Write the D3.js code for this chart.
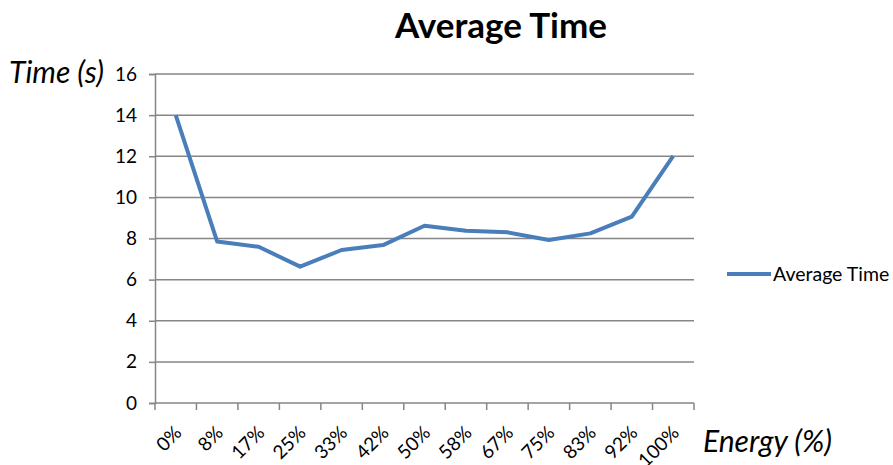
<!DOCTYPE html>
<html>
<head>
<meta charset="utf-8">
<script src="https://cdn.jsdelivr.net/npm/d3@7"></script>
<style>
  html, body { margin: 0; padding: 0; background: #fff; }
  svg { display: block; font-family: Lato, "Open Sans", sans-serif; }
</style>
</head>
<body>
<svg id="chart" width="893" height="465"></svg>
<script>
// Energy levels along the x axis
const categories = ["0%", "8%", "17%", "25%", "33%", "42%", "50%", "58%", "67%", "75%", "83%", "92%", "100%"];
// Average time in seconds for each energy level
const averageTime = [14, 7.85, 7.6, 6.63, 7.44, 7.68, 8.62, 8.38, 8.3, 7.93, 8.25, 9.06, 12.02];
// Y axis tick values
const yTicks = [0, 2, 4, 6, 8, 10, 12, 14, 16];

const svg = d3.select("#chart");
const plot = { left: 155, right: 694, top: 74, bottom: 403 };

const x = d3.scaleBand().domain(categories).range([plot.left, plot.right]);
const y = d3.scaleLinear().domain([0, 16]).range([plot.bottom, plot.top]);

const gridColor = "#868686";

// Horizontal gridlines
svg.append("g").selectAll("line").data(yTicks.filter(d => d > 0)).join("line")
  .attr("x1", plot.left).attr("x2", plot.right)
  .attr("y1", d => y(d)).attr("y2", d => y(d))
  .attr("stroke", gridColor).attr("stroke-width", 1.5);

// Y axis
const yAxis = svg.append("g").attr("transform", `translate(${plot.left},0)`)
  .call(d3.axisLeft(y).tickValues(yTicks).tickSize(6).tickPadding(12));
yAxis.select(".domain").attr("stroke", gridColor).attr("stroke-width", 1.5);
yAxis.selectAll(".tick line").attr("stroke", gridColor).attr("stroke-width", 1.5);
yAxis.selectAll(".tick text").attr("font-size", 19).attr("fill", "#000")
  .attr("font-family", "Lato, sans-serif");

// X axis with ticks on band boundaries
const xAxisG = svg.append("g").attr("transform", `translate(0,${plot.bottom})`);
xAxisG.append("line").attr("x1", plot.left).attr("x2", plot.right)
  .attr("stroke", gridColor).attr("stroke-width", 1.5);
const boundaries = categories.map(c => x(c)).concat([plot.right]);
xAxisG.selectAll("line.tk").data(boundaries).join("line").attr("class", "tk")
  .attr("x1", d => d).attr("x2", d => d).attr("y1", 0).attr("y2", 7)
  .attr("stroke", gridColor).attr("stroke-width", 1.5);
xAxisG.selectAll("text").data(categories).join("text")
  .attr("transform", d => `translate(${x(d) + x.bandwidth() / 2 + 7},${31}) rotate(-45)`)
  .attr("text-anchor", "end")
  .attr("font-size", 19)
  .attr("fill", "#000")
  .text(d => d);

// Data line
const line = d3.line()
  .x((d, i) => x(categories[i]) + x.bandwidth() / 2)
  .y(d => y(d));
svg.append("path").datum(averageTime)
  .attr("d", line)
  .attr("fill", "none")
  .attr("stroke", "#4a7ebb")
  .attr("stroke-width", 4)
  .attr("stroke-linejoin", "round");

// Title
svg.append("text").attr("x", 501).attr("y", 38).attr("text-anchor", "middle")
  .attr("font-size", 35).attr("font-weight", "bold").attr("fill", "#000")
  .text("Average Time");

// Axis titles
svg.append("text").attr("x", 9).attr("y", 83)
  .attr("font-size", 30).attr("font-style", "italic").attr("fill", "#000")
  .text("Time (s)");
svg.append("text").attr("x", 703).attr("y", 452)
  .attr("font-size", 30).attr("font-style", "italic").attr("fill", "#000")
  .text("Energy (%)");

// Legend
const legend = svg.append("g");
legend.append("line").attr("x1", 727).attr("x2", 771).attr("y1", 274).attr("y2", 274)
  .attr("stroke", "#4a7ebb").attr("stroke-width", 4);
legend.append("text").attr("x", 773).attr("y", 281)
  .attr("font-size", 19.5).attr("fill", "#000").text("Average Time");
</script>
</body>
</html>
